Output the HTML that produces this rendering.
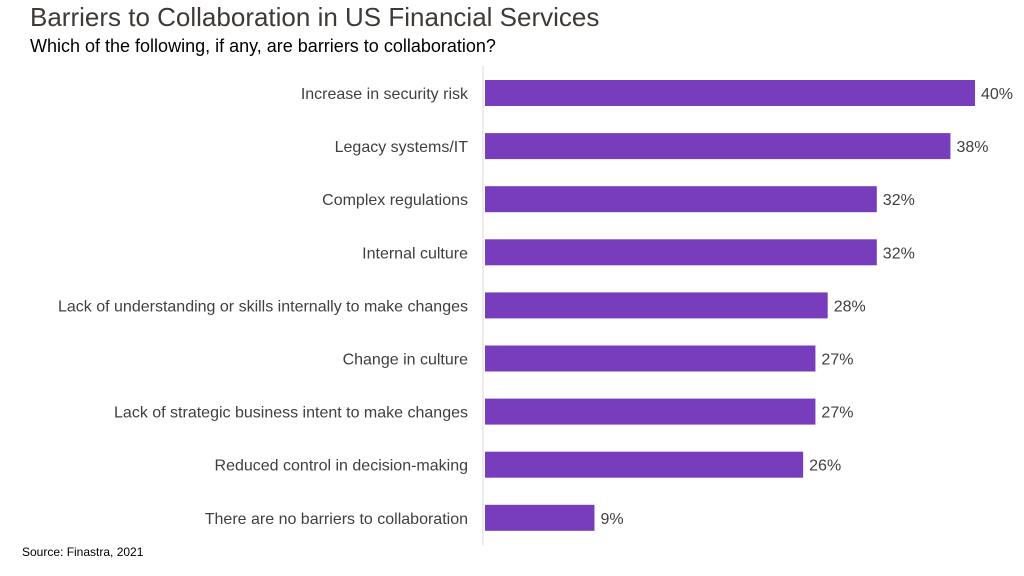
<!DOCTYPE html>
<html><head><meta charset="utf-8"><style>
body{margin:0;width:1024px;height:576px;background:#fff;overflow:hidden;font-family:"Liberation Sans",sans-serif}
#t{position:absolute;left:30px;top:2px;font-size:26px;color:#3f3a36}
#s{position:absolute;left:30px;top:36px;font-size:18px;color:#000}
#src{position:absolute;left:22px;top:545px;font-size:12px;color:#000}
</style></head><body>
<div id="t">Barriers to Collaboration in US Financial Services</div>
<div id="s">Which of the following, if any, are barriers to collaboration?</div>
<div id="src">Source: Finastra, 2021</div>
<svg id="c" width="1024" height="576" style="position:absolute;left:0;top:0"></svg>
<script>
const categories=["Increase in security risk","Legacy systems/IT","Complex regulations","Internal culture","Lack of understanding or skills internally to make changes","Change in culture","Lack of strategic business intent to make changes","Reduced control in decision-making","There are no barriers to collaboration"];
const values=[40,38,32,32,28,27,27,26,9];
const valueLabels=["40%","38%","32%","32%","28%","27%","27%","26%","9%"];
const svg=document.getElementById('c');const NS="http://www.w3.org/2000/svg";
const x0=484,scale=491/40,y0=93,step=53.1,bh=26;
const xs=v=>x0+v*scale, ys=i=>y0+i*step;
function mk(t,a){const e=document.createElementNS(NS,t);for(const k in a)e.setAttribute(k,a[k]);svg.appendChild(e);return e;}
const ax=mk('line',{x1:483,x2:483,y1:66,y2:545,stroke:'#d9d9d9','stroke-width':1});


categories.forEach((c,i)=>{
 const r=mk('rect',{x:x0+1,y:ys(i)-bh/2,width:xs(values[i])-x0-1,height:bh,fill:'#773dbd'});
 
 
 const l=mk('text',{x:468,y:ys(i)+6,'text-anchor':'end','font-size':16,fill:'#404040'});l.textContent=c;
 
 
 const v=mk('text',{x:xs(values[i])+6,y:ys(i)+6,'font-size':16,fill:'#404040'});v.textContent=valueLabels[i];
 
 
});
</script>
</body></html>
